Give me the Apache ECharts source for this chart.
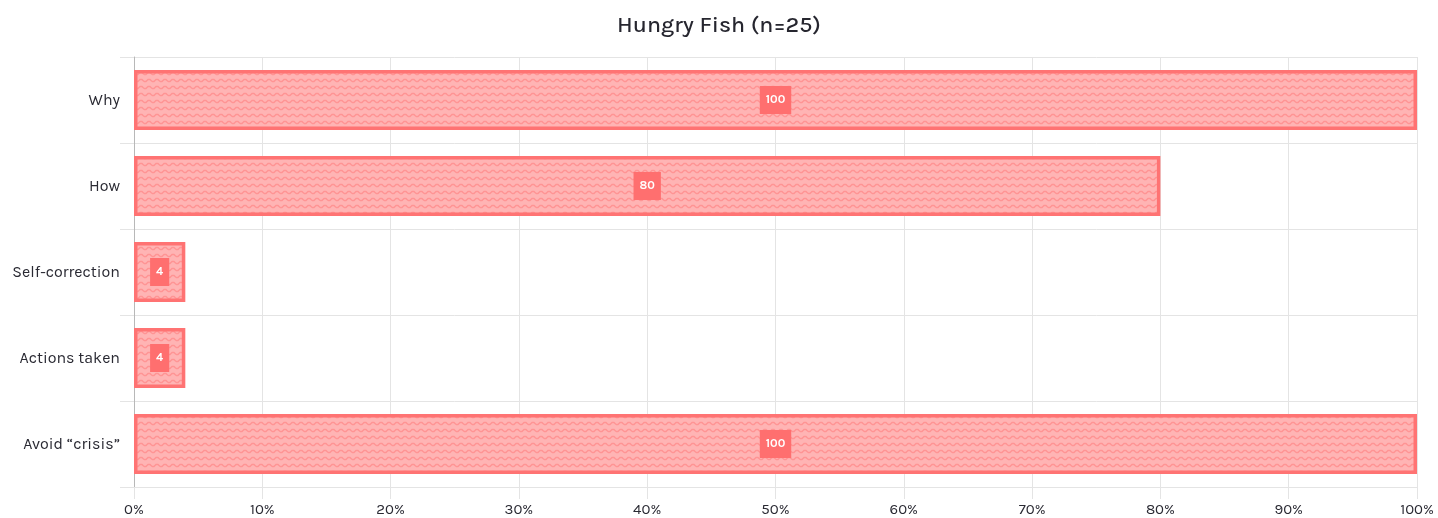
<!DOCTYPE html>
<html>
<head>
<meta charset="utf-8">
<script src="https://cdn.jsdelivr.net/npm/echarts@6/dist/echarts.min.js"></script>
<style>
html,body{margin:0;padding:0;background:#fff;}
#c{width:1438px;height:518px;}
</style>
</head>
<body>
<div id="c"></div>
<script>
const categories = ['Why', 'How', 'Self-correction', 'Actions taken', 'Avoid \u201ccrisis\u201d'];
const values = [100, 80, 4, 4, 100];
const xTicks = [0, 10, 20, 30, 40, 50, 60, 70, 80, 90, 100];
const titleText = 'Hungry Fish (n=25)';

function makePattern() {
  const cv = document.createElement('canvas');
  cv.width = 8; cv.height = 7;
  const ctx = cv.getContext('2d');
  ctx.fillStyle = '#ffb4b4';
  ctx.fillRect(0, 0, 8, 7);
  ctx.strokeStyle = '#ff9494';
  ctx.lineWidth = 1.3;
  ctx.beginPath();
  ctx.moveTo(0, 4.5);
  ctx.lineTo(2, 4.5);
  ctx.lineTo(4, 2.5);
  ctx.lineTo(6, 2.5);
  ctx.lineTo(8, 4.5);
  ctx.stroke();
  return cv;
}

const font = 'Karla, "Noto Sans", Lato, sans-serif';
const chart = echarts.init(document.getElementById('c'));
chart.setOption({
  animation: false,
  title: {
    text: titleText, left: 'center', top: 9,
    textStyle: { fontFamily: font, fontSize: 23, fontWeight: 500, color: '#26262f' }
  },
  grid: { left: 134, right: 21, top: 57, bottom: 31 },
  xAxis: {
    type: 'value', min: xTicks[0], max: xTicks[xTicks.length - 1], interval: 10,
    axisLine: { show: true, lineStyle: { color: '#e4e4e4' } },
    axisTick: { show: true, length: 12, lineStyle: { color: '#e4e4e4' } },
    splitLine: { show: true, lineStyle: { color: '#e4e4e4' } },
    axisLabel: { formatter: v => v + '%', fontFamily: font, fontSize: 15, color: '#2a2a33', margin: 15 }
  },
  yAxis: {
    type: 'category', data: categories, inverse: true,
    axisLine: { show: true, lineStyle: { color: '#b8b8b8' } },
    axisTick: { show: true, length: 14, lineStyle: { color: '#e4e4e4' } },
    splitLine: { show: true, lineStyle: { color: '#e4e4e4' } },
    axisLabel: { fontFamily: font, fontSize: 16, color: '#2a2a33', margin: 14 }
  },
  series: [{
    type: 'bar', data: values, barWidth: '70%',
    itemStyle: {
      color: { image: makePattern(), repeat: 'repeat' },
      borderColor: '#ff7373', borderWidth: 3.5
    },
    label: {
      show: true, position: 'inside',
      backgroundColor: '#ff6f6f', color: '#fff', fontWeight: 'bold',
      fontFamily: font, fontSize: 12, padding: [8, 6]
    }
  }]
});
</script>
</body>
</html>
